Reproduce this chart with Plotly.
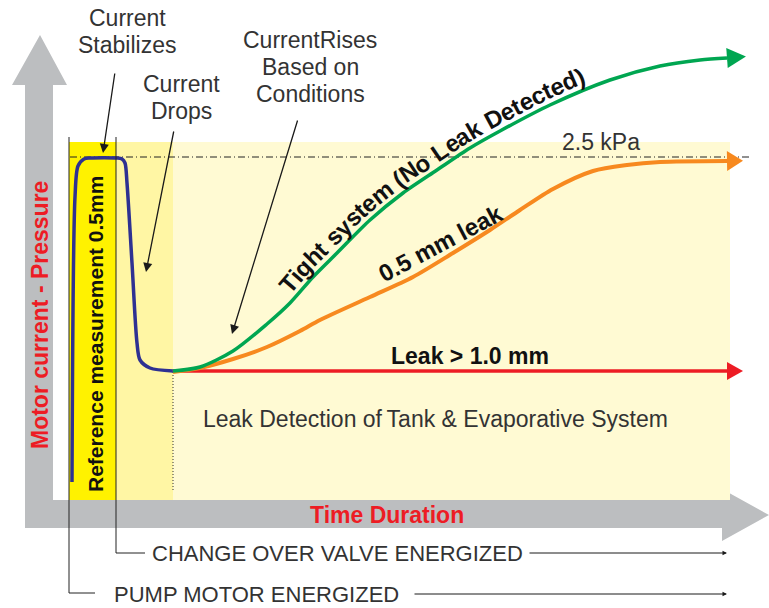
import numpy as np
import plotly.graph_objects as go

W, H = 769, 608

# ---- curve data (time units along x, level units upward) ----
ref_time = [72, 75, 78, 84, 90, 117, 122, 125, 127, 132, 137, 140, 150, 173]
ref_level = [126, 411, 442, 449, 450, 450, 449, 445, 425, 345, 265, 248, 240, 237]

tight_time = [173, 200, 233, 267, 290, 313, 337, 370, 403, 437, 470, 500, 550, 610, 660, 700, 727]
tight_level = [237, 241, 257, 284, 305, 331, 355, 388, 415, 438, 460, 477, 503, 528, 542, 548, 550]

leak05_time = [173, 200, 233, 267, 300, 320, 370, 413, 453, 490, 520, 553, 593, 627, 660, 727]
leak05_level = [236, 240, 249, 261, 277, 288, 311, 331, 355, 378, 398, 419, 437, 443, 446, 447]

leak10_time = [173, 727]
leak10_level = [237, 237]

GREEN = "#00A651"
ORANGE = "#F7891F"
RED = "#ED1C24"
BLUE = "#2E3192"
GRAY = "#BCBEC0"
TXT = "#333333"

# advance widths (em) of Liberation Sans Bold, for setting text along a curve
BOLD_EM = {"T": .611, "i": .278, "g": .611, "h": .611, "t": .333, " ": .278, "s": .556,
           "y": .556, "e": .556, "m": .889, "(": .333, "N": .722, "o": .611, "L": .611,
           "a": .556, "k": .556, "D": .722, "c": .556, "d": .611, ")": .333}


def Y(py):
    """Convert a top-down page offset into the upward level axis."""
    return H - py


fig = go.Figure()


def curve(xs, ys, color, width):
    fig.add_trace(go.Scatter(x=xs, y=ys, mode="lines",
                             line=dict(color=color, width=width, shape="spline", smoothing=0.8),
                             hoverinfo="skip", showlegend=False))


def head(xs, ys, color, length, half):
    # arrowhead continuing from the last point of a series
    x0, y0 = xs[-1], ys[-1]
    x1, y1 = xs[-2], ys[-2]
    d = np.array([x0 - x1, y0 - y1], float)
    d /= np.linalg.norm(d)
    n = np.array([-d[1], d[0]])
    base = np.array([x0, y0], float)
    tip = base + d * length
    p1 = base + n * half
    p2 = base - n * half
    fig.add_trace(go.Scatter(x=[tip[0], p1[0], p2[0], tip[0]], y=[tip[1], p1[1], p2[1], tip[1]],
                             mode="lines", fill="toself", fillcolor=color,
                             line=dict(color=color, width=0), hoverinfo="skip", showlegend=False))


def smooth_path(xs, ys, n=30):
    """Catmull-Rom resampling of a series."""
    P = np.column_stack([xs, ys]).astype(float)
    out = []
    for i in range(len(P) - 1):
        p0 = P[i - 1] if i > 0 else P[i]
        p1, p2 = P[i], P[i + 1]
        p3 = P[i + 2] if i + 2 < len(P) else P[i + 1]
        for t in np.linspace(0, 1, n, endpoint=False):
            t2, t3 = t * t, t * t * t
            out.append(0.5 * ((2 * p1) + (-p0 + p2) * t + (2 * p0 - 5 * p1 + 4 * p2 - p3) * t2
                              + (-p0 + 3 * p1 - 3 * p2 + p3) * t3))
    out.append(P[-1])
    return np.array(out)


shapes = []
# gray axis arrows
shapes.append(dict(type="path", layer="below",
                   path=f"M 25 {Y(528)} L 25 {Y(85)} L 12 {Y(85)} L 40 {Y(35)} L 67 {Y(85)} L 53 {Y(85)} L 53 {Y(500)} "
                        f"L 722 {Y(500)} L 722 {Y(489)} L 769 {Y(515)} L 722 {Y(541)} L 722 {Y(528)} Z",
                   fillcolor=GRAY, line=dict(width=0)))
# shaded phases
shapes.append(dict(type="rect", layer="below", x0=173, x1=730, y0=Y(500), y1=Y(142),
                   fillcolor="#FFFAD3", line=dict(width=0)))
shapes.append(dict(type="rect", layer="below", x0=116, x1=173, y0=Y(500), y1=Y(142),
                   fillcolor="#FFF6A4", line=dict(width=0)))
shapes.append(dict(type="rect", layer="below", x0=69, x1=116, y0=Y(500), y1=Y(142),
                   fillcolor="#FFF200", line=dict(width=0)))
# 2.5 kPa reference line
shapes.append(dict(type="line", layer="below", x0=70, x1=752, y0=Y(157), y1=Y(157),
                   line=dict(color="#222", width=1, dash="7px,3px,1px,3px")))
# start of leak detection
shapes.append(dict(type="line", layer="below", x0=173, x1=173, y0=Y(372), y1=Y(492),
                   line=dict(color="#333", width=1, dash="1px,2px")))
# event markers
shapes.append(dict(type="path", layer="above", path=f"M 69 {Y(137)} L 69 {Y(593)} L 95 {Y(593)}",
                   line=dict(color="#222", width=1)))
shapes.append(dict(type="path", layer="above", path=f"M 116 {Y(137)} L 116 {Y(553)} L 145 {Y(553)}",
                   line=dict(color="#222", width=1)))

curve(ref_time, ref_level, BLUE, 3.5)
curve(leak10_time, leak10_level, RED, 3.5)
curve(leak05_time, leak05_level, ORANGE, 4)
curve(tight_time, tight_level, GREEN, 3.5)
head(tight_time, tight_level, GREEN, 19, 10)
head(leak05_time, leak05_level, ORANGE, 16, 10)
head(leak10_time, leak10_level, RED, 16, 9)

ann = []


def text(x, py, s, size, color=TXT, bold=False, angle=0, family="Liberation Sans"):
    if bold:
        s = f"<b>{s}</b>"
    ann.append(dict(x=x, y=Y(py), text=s, showarrow=False, textangle=angle,
                    font=dict(family=family, size=size, color=color),
                    xanchor="center", yanchor="middle"))


def pointer(x0, py0, x1, py1, head=2, size=1.4, width=1.3):
    ann.append(dict(x=x1, y=Y(py1), ax=x0, ay=Y(py0), axref="x", ayref="y", xref="x", yref="y",
                    text="", showarrow=True, arrowhead=head, arrowsize=size, arrowwidth=width,
                    arrowcolor="#1A1A1A"))


def text_on_curve(xs, ys, s, size, start_x, offset, color="#111"):
    """Set bold text glyph by glyph along a curve, shifted to its upper-left side."""
    P = smooth_path(xs, ys)
    tan = np.gradient(P, axis=0)
    tan /= np.linalg.norm(tan, axis=1)[:, None]
    nrm = np.column_stack([-tan[:, 1], tan[:, 0]])
    Q = P + nrm * offset
    seg = np.linalg.norm(np.diff(Q, axis=0), axis=1)
    arc = np.concatenate([[0], np.cumsum(seg)])
    s0 = np.interp(start_x, Q[:, 0], arc)
    pos = s0
    for ch in s:
        w = BOLD_EM[ch] * size
        c = pos + w / 2
        pos += w
        if ch == " ":
            continue
        cx = np.interp(c, arc, Q[:, 0])
        cy = np.interp(c, arc, Q[:, 1])
        tx = np.interp(c, arc, tan[:, 0])
        ty = np.interp(c, arc, tan[:, 1])
        ang = np.degrees(np.arctan2(ty, tx))
        ann.append(dict(x=cx, y=cy, text=f"<b>{ch}</b>", showarrow=False, textangle=-ang,
                        font=dict(family="Liberation Sans", size=size, color=color),
                        xanchor="center", yanchor="middle"))


text(127, 18, "Current", 23)
text(127, 45, "Stabilizes", 23)
text(181, 84, "Current", 23)
text(181, 111, "Drops", 23)
text(310, 40, "CurrentRises", 23)
text(310, 67, "Based on", 23)
text(310, 94, "Conditions", 23)
pointer(115, 72, 103, 153)
pointer(174, 130, 146, 272)
pointer(298, 119, 232, 334)

text(601, 142, "2.5 kPa", 23)
text(435, 419, "Leak Detection of\u2009Tank &amp; Evaporative System", 23)
text(470, 356, "Leak &gt; 1.0 mm", 23, color="#111", bold=True)
text(440, 243, "0.5 mm leak", 24, color="#111", bold=True, angle=-28)

text_on_curve(tight_time, tight_level, "Tight system (No Leak Detected)", 24, start_x=284, offset=14)

text(95, 334, "Reference measurement 0.5mm", 21, color="#111", bold=True, angle=-90)
text(40, 315, "Motor current - Pressure", 23, color=RED, bold=True, angle=-90)
text(387, 515, "Time Duration", 23, color=RED, bold=True)

text(337, 553, "CHANGE OVER VALVE ENERGIZED", 22)
text(256, 594, "PUMP MOTOR ENERGIZED", 22)
pointer(528, 553, 727, 553, head=2, size=0.9, width=1)
pointer(413, 594, 727, 594, head=2, size=0.9, width=1)

fig.update_layout(
    width=W, height=H, margin=dict(l=0, r=0, t=0, b=0),
    paper_bgcolor="white", plot_bgcolor="white",
    xaxis=dict(range=[0, W], visible=False, fixedrange=True),
    yaxis=dict(range=[0, H], visible=False, fixedrange=True),
    shapes=shapes, annotations=ann, showlegend=False,
)
fig.write_html("out.html")
